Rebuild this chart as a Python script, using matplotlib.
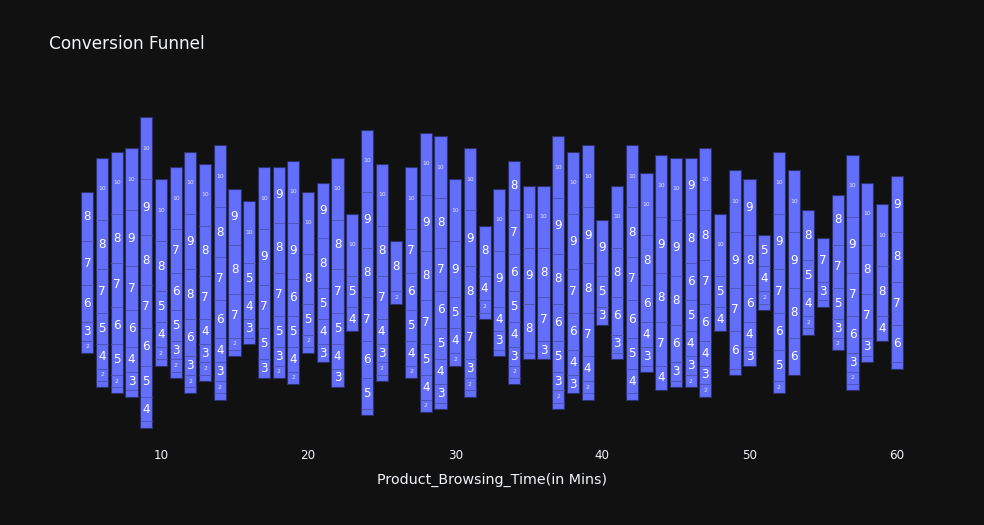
import numpy as np
import matplotlib
matplotlib.use("Agg")
import matplotlib.pyplot as plt

# browsing time (mins) on x, stacked funnel segments (top to bottom) per column
browsing_time = list(range(5, 61))
segments = [
    [8, 7, 6, 3, 2],
    [10, 8, 7, 5, 4, 2, 1],
    [10, 8, 7, 6, 5, 2, 1],
    [10, 9, 7, 6, 4, 3, 1],
    [10, 9, 8, 7, 6, 5, 4, 1],
    [10, 8, 5, 4, 2, 1],
    [10, 7, 6, 5, 3, 2, 1],
    [10, 9, 8, 6, 3, 2, 1],
    [10, 8, 7, 4, 3, 2, 1],
    [10, 8, 7, 6, 4, 3, 2, 1],
    [9, 8, 7, 2, 1],
    [10, 5, 4, 3, 1],
    [10, 9, 7, 5, 3],
    [9, 8, 7, 5, 3, 2],
    [10, 9, 6, 5, 4, 2],
    [10, 8, 5, 2, 1],
    [9, 8, 5, 4, 3],
    [10, 8, 7, 5, 4, 3],
    [10, 5, 4],
    [10, 9, 8, 7, 6, 5, 1],
    [10, 8, 7, 4, 3, 2, 1],
    [8, 2],
    [10, 7, 6, 5, 4, 2],
    [10, 9, 8, 7, 5, 4, 2],
    [10, 8, 7, 6, 5, 4, 3, 1],
    [10, 9, 5, 4, 2],
    [10, 9, 8, 7, 3, 2, 1],
    [8, 4, 2, 1],
    [10, 9, 4, 3, 1],
    [8, 7, 6, 5, 4, 3, 2, 1],
    [10, 9, 8, 1],
    [10, 8, 7, 3],
    [10, 9, 8, 6, 5, 3, 2, 1],
    [10, 9, 7, 6, 4, 3],
    [10, 9, 8, 7, 4, 2, 1],
    [9, 5, 3],
    [10, 8, 6, 3, 1],
    [10, 8, 7, 6, 5, 4, 1],
    [10, 8, 6, 4, 3, 1],
    [10, 9, 8, 7, 4],
    [10, 9, 8, 6, 3, 1],
    [9, 8, 6, 5, 4, 3, 2],
    [10, 8, 7, 6, 4, 3, 2],
    [10, 5, 4],
    [10, 9, 7, 6, 1],
    [9, 8, 6, 4, 3],
    [5, 4, 2, 1],
    [10, 9, 7, 6, 5, 2],
    [10, 9, 8, 6],
    [8, 5, 4, 2, 1],
    [7, 3, 1],
    [8, 7, 5, 3, 2],
    [10, 9, 7, 6, 3, 2, 1],
    [10, 8, 7, 3, 1],
    [10, 8, 4],
    [9, 8, 7, 6, 1],
]
x_ticks = [10, 20, 30, 40, 50, 60]

bg = "#111111"
bar_color = "#636efa"
text_color = "#f2f5fa"
w = 0.82

fig = plt.figure(figsize=(9.84, 5.25), dpi=100, facecolor=bg)
ax = fig.add_axes([80 / 984, 80 / 525, 824 / 984, 345 / 525], facecolor=bg)

for x, segs in zip(browsing_time, segments):
    total = sum(segs)
    top = total / 2
    # outline of the whole column
    ax.bar(x, total, bottom=-total / 2, width=w, color=bar_color,
           edgecolor="#2c306c", linewidth=0.8, zorder=2)
    for v in segs:
        bottom = top - v
        if top < total / 2:
            ax.plot([x - w / 2 + 0.03, x + w / 2 - 0.03], [top, top],
                    color="#4a51b4", linewidth=0.6, zorder=3)
        if v >= 3 and v < 10:
            ax.text(x, bottom + v / 2, str(v), ha="center", va="center",
                    color="white", fontsize=8.6, zorder=4)
        elif v == 10 or v == 2:
            ax.text(x, bottom + v / 2, str(v), ha="center", va="center",
                    color="#e6e6f0", fontsize=4.3, zorder=4)
        top = bottom

ax.set_xlim(4.5, 60.5)
ax.set_ylim(-27.8, 27.8)
ax.set_yticks([])
ax.set_xticks(x_ticks)
ax.tick_params(axis="x", length=0, colors=text_color, labelsize=8.6, pad=3)
for s in ax.spines.values():
    s.set_visible(False)
ax.set_xlabel("Product_Browsing_Time(in Mins)", color=text_color, fontsize=10.3, labelpad=8)

fig.text(49 / 984, 1 - 44 / 525, "Conversion Funnel", color=text_color,
         fontsize=12.2, ha="left", va="center")

fig.savefig("out.png", dpi=100, facecolor=bg)
